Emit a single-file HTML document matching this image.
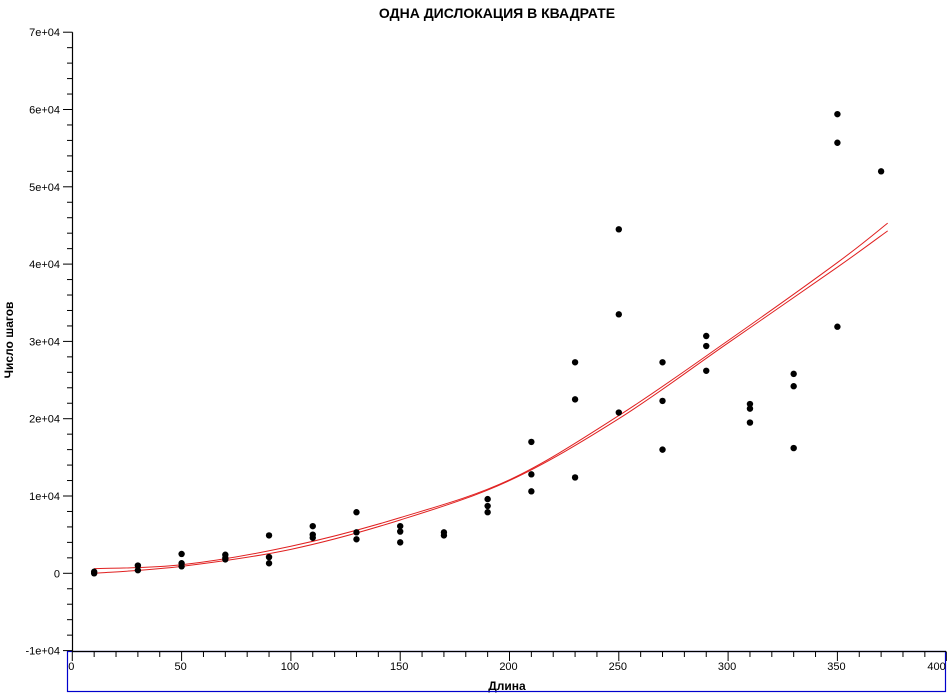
<!DOCTYPE html>
<html><head><meta charset="utf-8"><style>
html,body{margin:0;padding:0;background:#fff;}
svg{display:block;font-family:"Liberation Sans","DejaVu Sans",sans-serif;}
</style></head><body>
<svg id="chart" width="947" height="693" viewBox="0 0 947 693" xmlns="http://www.w3.org/2000/svg">
<text x="497" y="18" text-anchor="middle" font-size="14" font-weight="bold">ОДНА ДИСЛОКАЦИЯ В КВАДРАТЕ</text>
<text transform="translate(13,340) rotate(-90)" text-anchor="middle" font-size="12" font-weight="bold">Число шагов</text>
<text x="507" y="690" text-anchor="middle" font-size="12" font-weight="bold">Длина</text>
<rect x="67.5" y="651.5" width="878" height="40" fill="none" stroke="#0000cc" stroke-width="1.2"/>
<g id="axes"></g><g id="curves"></g><g id="points"></g>
</svg>
<script>
const xTicks=[0,50,100,150,200,250,300,350,400];
const yTicks=[-10000,0,10000,20000,30000,40000,50000,60000,70000];
const yTickLabels=["-1e+04","0","1e+04","2e+04","3e+04","4e+04","5e+04","6e+04","7e+04"];
const ptX=[10,10,30,30,50,50,50,70,70,70,90,90,90,110,110,110,130,130,130,150,150,150,170,170,190,190,190,210,210,210,230,230,230,250,250,250,270,270,270,290,290,290,310,310,310,330,330,330,350,350,350,370];
const ptY=[0,200,1000,400,2500,1300,900,2400,2000,1800,4900,2100,1300,6100,5000,4600,7900,5300,4400,6100,5400,4000,5300,4900,9600,8700,7900,17000,12800,10600,27300,22500,12400,44500,33500,20800,27300,22300,16000,30700,29400,26200,21900,21300,19500,25800,24200,16200,59400,55700,31900,52000];
const fitX=[10,50,100,150,200,250,300,350,373];
const fitA=[600,1100,3500,7200,12100,20400,30100,40200,45300];
const fitB=[0,900,3100,6900,12000,20000,29800,39600,44300];

const NS="http://www.w3.org/2000/svg";
const X=v=>72.3+v*(109.3/50);
const Y=v=>573.3-v*77.3/10000;
function mk(tag,attrs,parent){const e=document.createElementNS(NS,tag);for(const k in attrs)e.setAttribute(k,attrs[k]);parent.appendChild(e);return e;}
const axes=document.getElementById('axes');
let l=mk('line',{x1:72.5,y1:Y(70000),x2:72.5,y2:651.5,stroke:'#000','stroke-width':1.2},axes);


l=mk('line',{x1:72,y1:651.5,x2:946,y2:651.5,stroke:'#000','stroke-width':1.2},axes);


for(let v=-10000;v<=70000;v+=2000){
  const major=v%10000===0;
  const t=mk('line',{x1:major?63:67,y1:Y(v),x2:72.5,y2:Y(v),stroke:'#000','stroke-width':1},axes);
  
  
}
yTicks.forEach((v,i)=>{
  const t=mk('text',{x:60,y:Y(v)+4,'text-anchor':'end','font-size':11},axes);
  t.textContent=yTickLabels[i];
  
  
});
for(let v=0;v<=400;v+=10){
  const major=v%50===0;
  const t=mk('line',{x1:X(v),y1:651.5,x2:X(v),y2:major?661:657,stroke:'#000','stroke-width':1},axes);
  
  
}
xTicks.forEach(v=>{
  const t=mk('text',{x:X(v)-1,y:670,'text-anchor':v===400?'end':(v===0?'start':'middle'),'font-size':11},axes);
  if(v===0)t.setAttribute('x',X(v)-4);
  t.textContent=String(v);
  
  
});
function smooth(xs,ys){
  const p=xs.map((x,i)=>[X(x),Y(ys[i])]);
  let d='M'+p[0][0]+','+p[0][1];
  for(let i=0;i<p.length-1;i++){
    const p0=p[Math.max(0,i-1)],p1=p[i],p2=p[i+1],p3=p[Math.min(p.length-1,i+2)];
    const c1=[p1[0]+(p2[0]-p0[0])/6,p1[1]+(p2[1]-p0[1])/6];
    const c2=[p2[0]-(p3[0]-p1[0])/6,p2[1]-(p3[1]-p1[1])/6];
    d+=' C'+c1[0]+','+c1[1]+' '+c2[0]+','+c2[1]+' '+p2[0]+','+p2[1];
  }
  return d;
}
const curves=document.getElementById('curves');
let c=mk('path',{d:smooth(fitX,fitA),fill:'none',stroke:'#e02020','stroke-width':1},curves);


c=mk('path',{d:smooth(fitX,fitB),fill:'none',stroke:'#e02020','stroke-width':1},curves);


const pts=document.getElementById('points');
ptX.forEach((x,i)=>{
  const p=mk('circle',{cx:X(x),cy:Y(ptY[i]),r:3.2,fill:'#000'},pts);
  
  
});
</script>
</body></html>
